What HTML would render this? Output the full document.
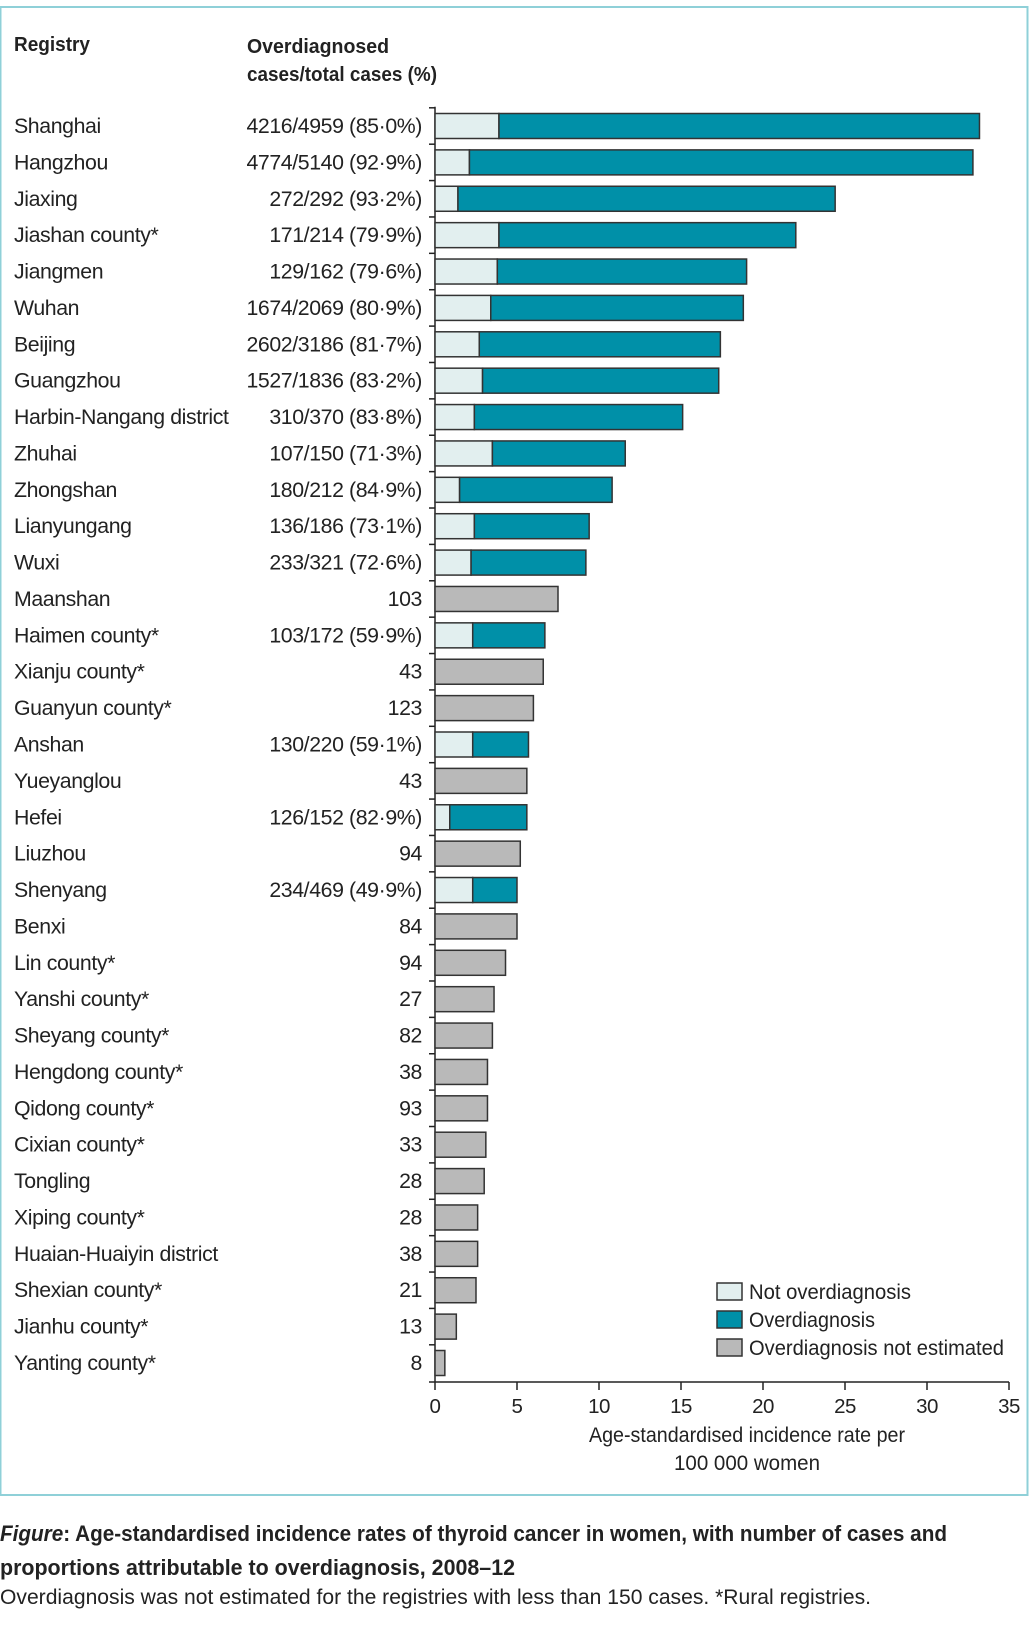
<!DOCTYPE html>
<html><head><meta charset="utf-8"><style>
body{margin:0;background:#fff;width:1030px;height:1633px;overflow:hidden;font-family:"Liberation Sans",sans-serif;color:#222}
svg text{font-family:"Liberation Sans",sans-serif;fill:#222}
</style></head><body>
<svg id="chart" width="1030" height="1633" xmlns="http://www.w3.org/2000/svg">
<rect x="0.5" y="7" width="1027" height="1488" fill="#fff" stroke="#8fd0d8" stroke-width="2"/>
<text x="14" y="51" font-size="20" font-weight="bold" textLength="76" lengthAdjust="spacingAndGlyphs">Registry</text>
<text x="247" y="53" font-size="20" font-weight="bold" textLength="142" lengthAdjust="spacingAndGlyphs">Overdiagnosed</text>
<text x="247" y="81" font-size="20" font-weight="bold" textLength="190" lengthAdjust="spacingAndGlyphs">cases/total cases (%)</text>
<g id="plot"></g>
<g>
<rect x="717" y="1283" width="25" height="17" fill="#e2efef" stroke="#333" stroke-width="1.5"/>
<text x="749" y="1299" font-size="21" textLength="162" lengthAdjust="spacingAndGlyphs">Not overdiagnosis</text>
<rect x="717" y="1311" width="25" height="17" fill="#0090a8" stroke="#333" stroke-width="1.5"/>
<text x="749" y="1327" font-size="21" textLength="126" lengthAdjust="spacingAndGlyphs">Overdiagnosis</text>
<rect x="717" y="1339" width="25" height="17" fill="#b9b9b9" stroke="#333" stroke-width="1.5"/>
<text x="749" y="1355" font-size="21" textLength="255" lengthAdjust="spacingAndGlyphs">Overdiagnosis not estimated</text>
</g>
<text x="747" y="1442" font-size="21" text-anchor="middle" textLength="316" lengthAdjust="spacingAndGlyphs">Age-standardised incidence rate per</text>
<text x="747" y="1470" font-size="21" text-anchor="middle" textLength="146" lengthAdjust="spacingAndGlyphs">100 000 women</text>
<text x="0" y="1541" font-size="22" font-weight="bold" textLength="947" lengthAdjust="spacingAndGlyphs"><tspan font-style="italic">Figure</tspan>: Age-standardised incidence rates of thyroid cancer in women, with number of cases and</text>
<text x="0" y="1575" font-size="22" font-weight="bold" textLength="515" lengthAdjust="spacingAndGlyphs">proportions attributable to overdiagnosis, 2008–12</text>
<text x="0" y="1604" font-size="21" textLength="871" lengthAdjust="spacingAndGlyphs">Overdiagnosis was not estimated for the registries with less than 150 cases. *Rural registries.</text>
</svg>
<script>
const registries=["Shanghai","Hangzhou","Jiaxing","Jiashan county*","Jiangmen","Wuhan","Beijing","Guangzhou","Harbin-Nangang district","Zhuhai","Zhongshan","Lianyungang","Wuxi","Maanshan","Haimen county*","Xianju county*","Guanyun county*","Anshan","Yueyanglou","Hefei","Liuzhou","Shenyang","Benxi","Lin county*","Yanshi county*","Sheyang county*","Hengdong county*","Qidong county*","Cixian county*","Tongling","Xiping county*","Huaian-Huaiyin district","Shexian county*","Jianhu county*","Yanting county*"];
const caseLabels=["4216/4959 (85·0%)","4774/5140 (92·9%)","272/292 (93·2%)","171/214 (79·9%)","129/162 (79·6%)","1674/2069 (80·9%)","2602/3186 (81·7%)","1527/1836 (83·2%)","310/370 (83·8%)","107/150 (71·3%)","180/212 (84·9%)","136/186 (73·1%)","233/321 (72·6%)","103","103/172 (59·9%)","43","123","130/220 (59·1%)","43","126/152 (82·9%)","94","234/469 (49·9%)","84","94","27","82","38","93","33","28","28","38","21","13","8"];
const totalRate=[33.2,32.8,24.4,22.0,19.0,18.8,17.4,17.3,15.1,11.6,10.8,9.4,9.2,7.5,6.7,6.6,6.0,5.7,5.6,5.6,5.2,5.0,5.0,4.3,3.6,3.5,3.2,3.2,3.1,3.0,2.6,2.6,2.5,1.3,0.6];
const notOverRate=[3.9,2.1,1.4,3.9,3.8,3.4,2.7,2.9,2.4,3.5,1.5,2.4,2.2,null,2.3,null,null,2.3,null,0.9,null,2.3,null,null,null,null,null,null,null,null,null,null,null,null,null];
const xTicks=[0,5,10,15,20,25,30,35];

const NS="http://www.w3.org/2000/svg";
const g=document.getElementById('plot');
const X0=435,X1=1009,XMAX=35,AXY=1382,ROW0=126,ROWSTEP=(1363-126)/34,BH=25;
const x=v=>X0+(X1-X0)*v/XMAX;
const y=i=>ROW0+i*ROWSTEP;
function mk(tag,attrs){const e=document.createElementNS(NS,tag);for(const k in attrs)e.setAttribute(k,attrs[k]);g.appendChild(e);return e;}

let ax=mk('line',{x1:X0,y1:y(0)-ROWSTEP/2-1,x2:X0,y2:AXY,stroke:'#222','stroke-width':1.5});


let axx=mk('line',{x1:X0-6,y1:AXY,x2:X1,y2:AXY,stroke:'#222','stroke-width':1.5});



registries.forEach((name,i)=>{
  const cy=y(i);
  let t=mk('line',{x1:X0-6,y1:cy-ROWSTEP/2,x2:X0,y2:cy-ROWSTEP/2,stroke:'#222','stroke-width':1.5});
  
  
  let lab=mk('text',{x:14,y:cy+7,'font-size':21.3,'letter-spacing':'-0.4'});
  lab.textContent=name;
  
  
  let cl=mk('text',{x:422,y:cy+7,'font-size':21.3,'text-anchor':'end','letter-spacing':'-0.4'});
  cl.textContent=caseLabels[i];
  
  
  const top=cy-BH/2;
  if(notOverRate[i]==null){
    let b=mk('rect',{x:x(0),y:top,width:x(totalRate[i])-x(0),height:BH,fill:'#b9b9b9',stroke:'#333','stroke-width':1.5});
    
    
  } else {
    let b1=mk('rect',{x:x(0),y:top,width:x(notOverRate[i])-x(0),height:BH,fill:'#e2efef',stroke:'#333','stroke-width':1.5});
    
    
    let b2=mk('rect',{x:x(notOverRate[i]),y:top,width:x(totalRate[i])-x(notOverRate[i]),height:BH,fill:'#0090a8',stroke:'#333','stroke-width':1.5});
    
    
  }
});
xTicks.forEach(v=>{
  let t=mk('line',{x1:x(v),y1:AXY,x2:x(v),y2:AXY+8,stroke:'#222','stroke-width':1.5});
  
  
  let l=mk('text',{x:x(v),y:AXY+31,'font-size':20.5,'text-anchor':'middle','letter-spacing':'-0.5'});
  l.textContent=v;
  
  
});
</script>
</body></html>
